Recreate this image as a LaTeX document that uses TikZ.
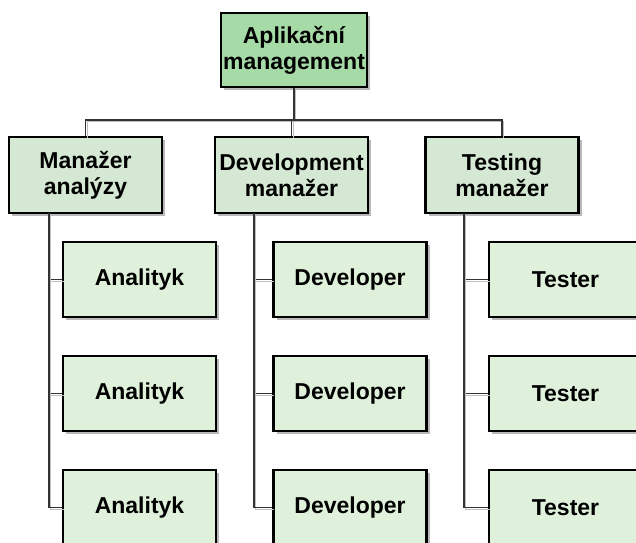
\documentclass[tikz,border=0pt]{standalone}
\usepackage{fontspec}
\setmainfont{Liberation Sans}
\usetikzlibrary{shadows,calc}
\definecolor{topfill}{HTML}{A6DAA6}
\definecolor{mgrfill}{HTML}{D5E8D4}
\definecolor{leaffill}{HTML}{DFF1DB}
\definecolor{edgecol}{HTML}{333333}
\tikzset{
  box/.style={draw=black, line width=2.2pt, minimum height=75pt, align=center,
    font=\bfseries\fontsize{23}{26}\selectfont, inner sep=2pt,
    drop shadow={shadow xshift=3pt, shadow yshift=-3pt, fill=black!35, opacity=0.8}},
  headbox/.style={box, fill=topfill, minimum width=146pt, minimum height=74pt},
  mgrbox/.style={box, fill=mgrfill, minimum width=153pt, minimum height=76pt},
  leafbox/.style={box, fill=leaffill, minimum width=153pt, minimum height=75pt},
  link/.style={draw=edgecol, line width=1.1pt,
    preaction={draw=black!25, line width=1.1pt, transform canvas={shift={(1.6pt,-1.6pt)}}}}
}
\begin{document}
\begin{tikzpicture}[x=1pt, y=-1pt]
  \useasboundingbox (0,0) rectangle (636,542);
  \clip (0,0) rectangle (636,542);

  % top of the hierarchy
  \node[headbox] (top) at (294,50) {Aplikační\\management};

  % middle level
  \node[mgrbox] (mA) at (85.5,175) {Manažer\\analýzy};
  \node[mgrbox] (mD) at (291.5,175) {Development\\manažer};
  \node[mgrbox] (mT) at (502,175) {Testing\\manažer};

  % spines under each manager
  \coordinate (sA) at (49,213);
  \coordinate (sD) at (254,213);
  \coordinate (sT) at (464,213);

  % bus from the top box to the managers
  \coordinate (bus) at (294,120);
  \path[link] (top.south) -- (bus);
  \path[link] (bus) -| (mA.north);
  \path[link] (bus) -| (mD.north);
  \path[link] (bus) -| (mT.north);

  % leaves
  \foreach \r/\y in {1/279.5, 2/393.5, 3/507.5} {
    \node[leafbox] (a\r) at (139.5,\y) {Analityk};
    \node[leafbox] (d\r) at (350,\y) {Developer};
    \node[leafbox] (t\r) at (565.5,\y) {Tester};
  }

  % links from spines to leaves
  \foreach \r in {1,2,3} {
    \path[link] (sA) |- (a\r.west);
    \path[link] (sD) |- (d\r.west);
    \path[link] (sT) |- (t\r.west);
  }
\end{tikzpicture}
\end{document}
